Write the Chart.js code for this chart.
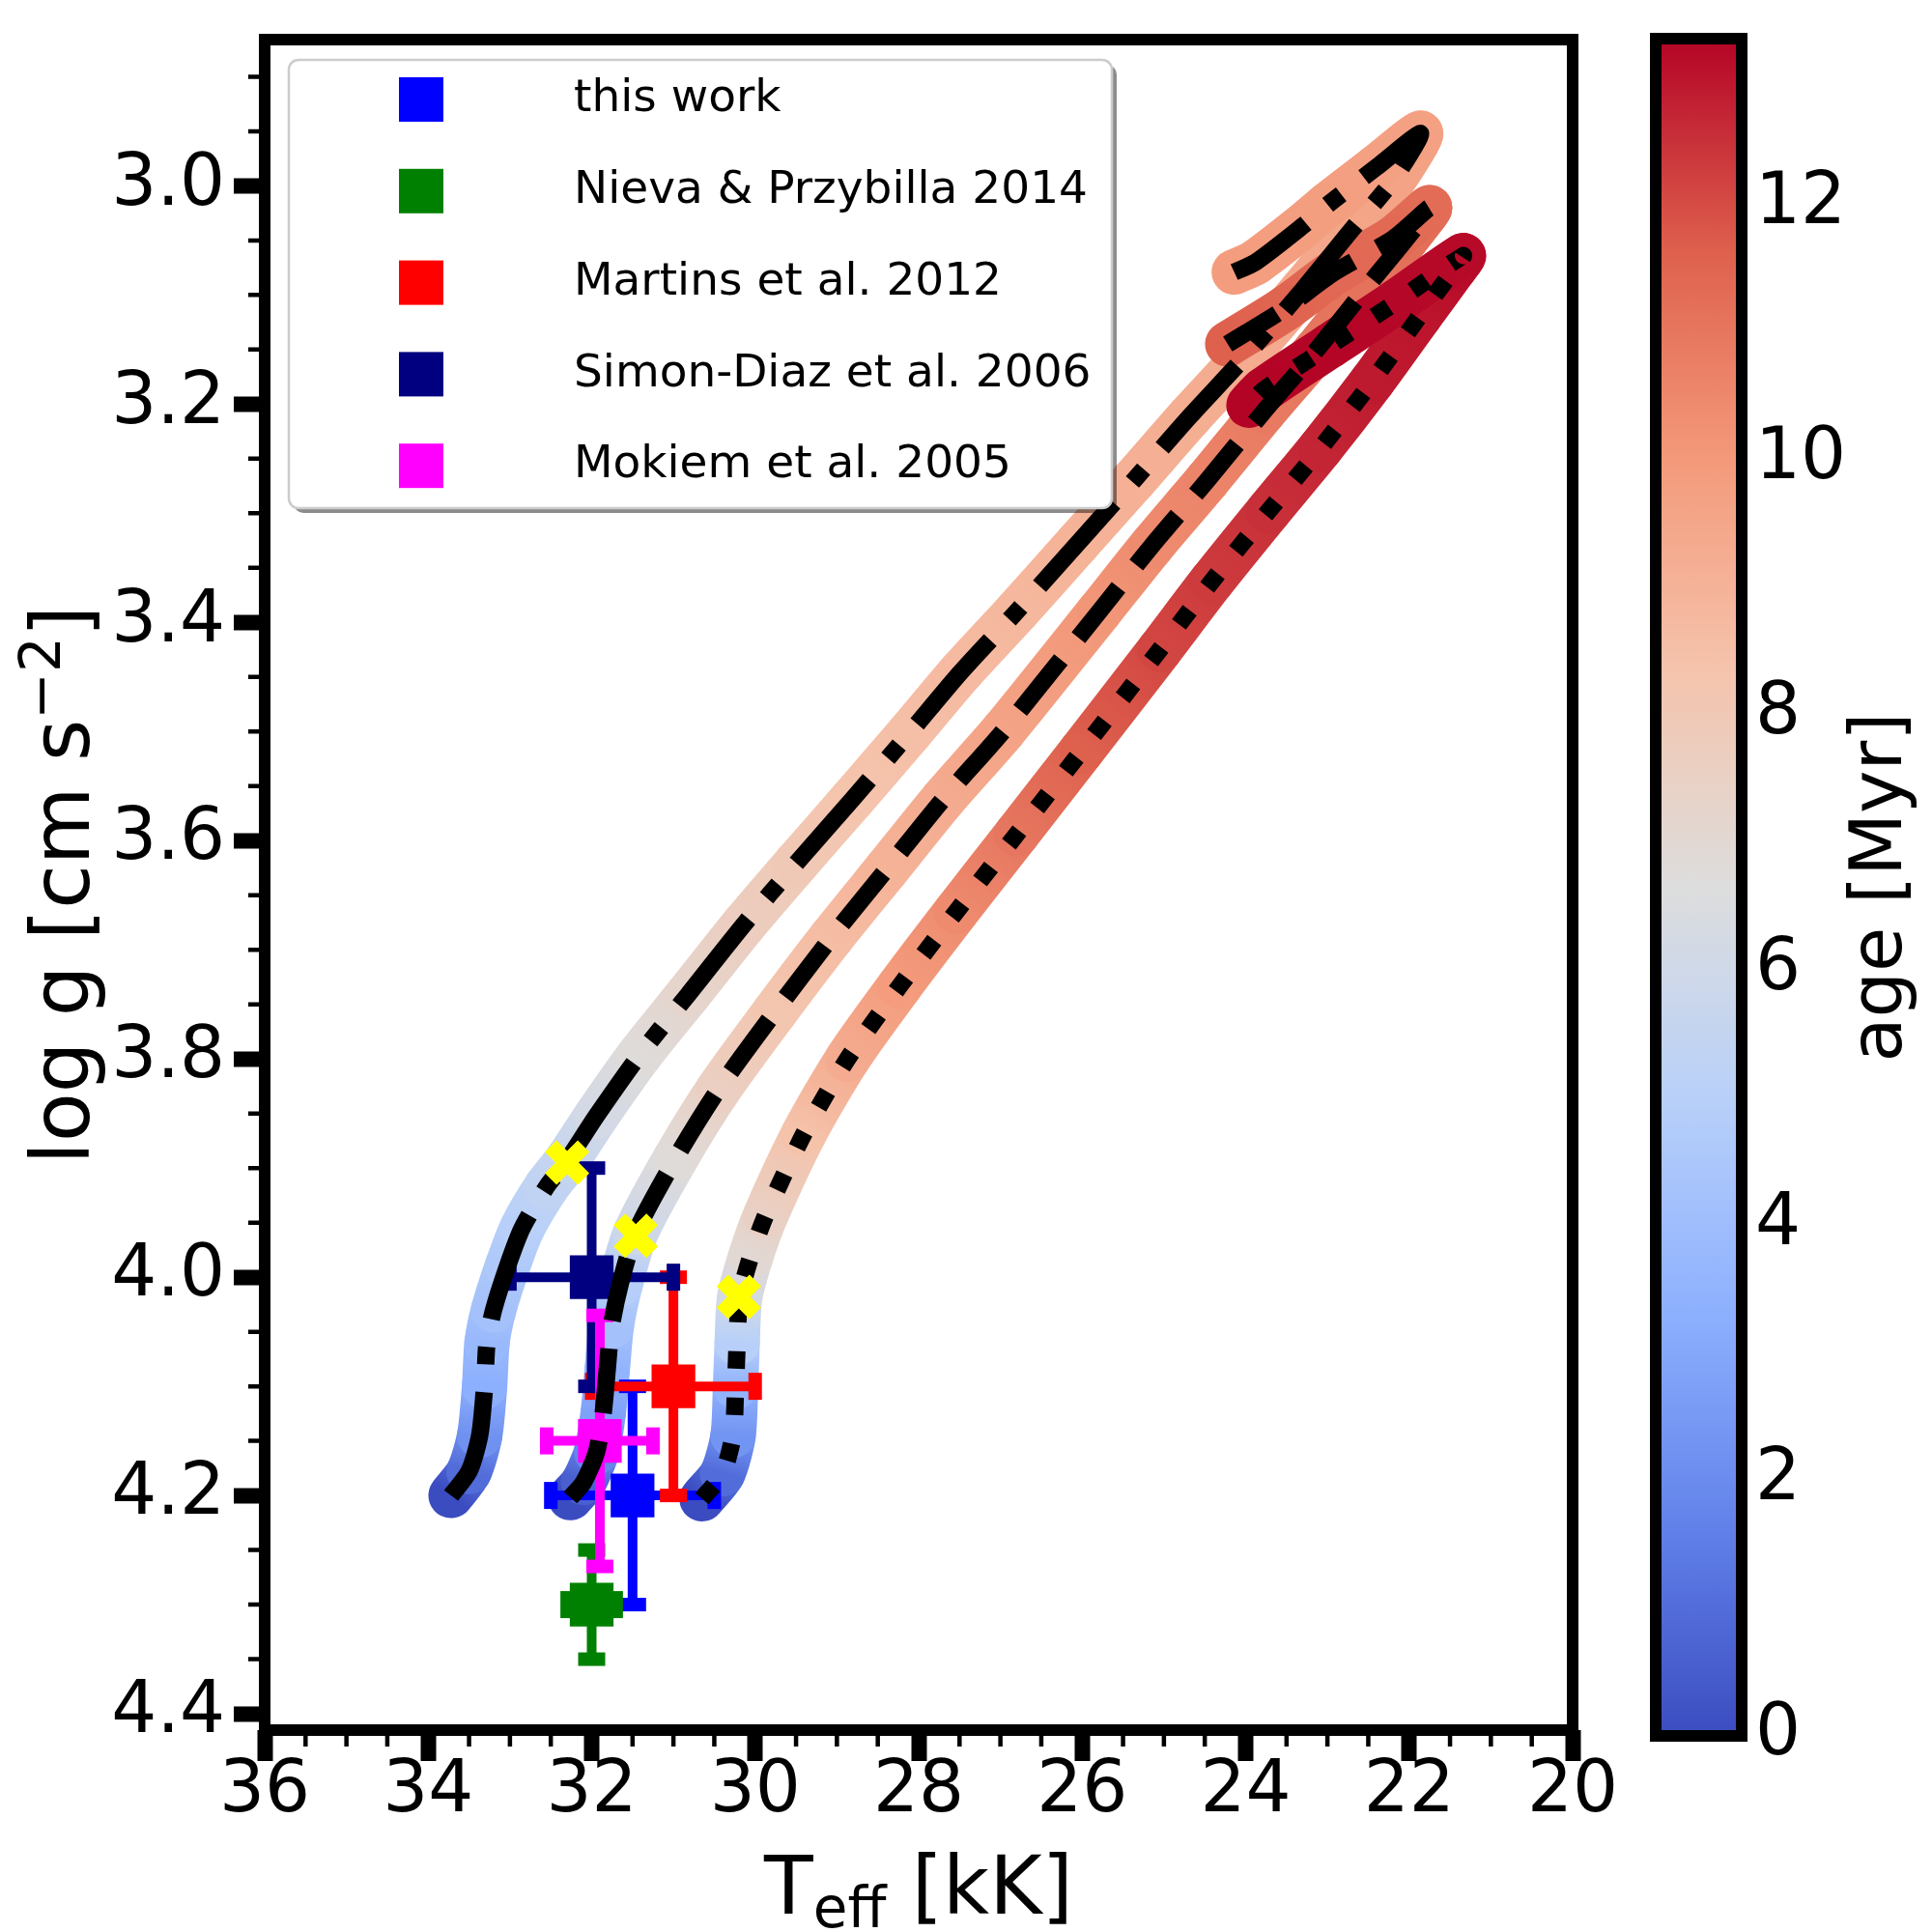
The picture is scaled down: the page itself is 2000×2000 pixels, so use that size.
<!DOCTYPE html>
<html>
<head>
<meta charset="utf-8">
<script src="https://cdn.jsdelivr.net/npm/chart.js@4.4.1/dist/chart.umd.min.js"></script>
<style>
  html, body { margin: 0; padding: 0; background: #fff; }
  #wrap { position: relative; width: 2000px; height: 2000px; }
  #main { position: absolute; left: 0; top: 0; width: 2000px; height: 2000px; }
  #cbar { position: absolute; left: 1650px; top: 0; width: 350px; height: 2000px; }
</style>
</head>
<body>
<div id="wrap">
  <canvas id="main" width="2000" height="2000"></canvas>
  <canvas id="cbar" width="350" height="2000"></canvas>
</div>
<script>
// axis ticks
const xMajor = [36, 34, 32, 30, 28, 26, 24, 22, 20];
const yMajor = [3.0, 3.2, 3.4, 3.6, 3.8, 4.0, 4.2, 4.4];
const cbTicks = [0, 2, 4, 6, 8, 10, 12];
const ageMax = 13.3;

// evolutionary tracks (Teff in kK, log g, age in Myr)
const track1Teff = [33.72, 33.50, 33.37, 33.31, 33.28, 33.20, 33.03, 32.85, 32.55, 32.30, 31.94, 31.41, 30.82, 30.14, 29.50, 28.81, 28.12, 27.49, 26.80, 26.06, 25.37, 24.68, 23.99, 23.30, 22.70, 22.20, 21.86, 22.40, 22.99, 23.29, 23.88, 24.14];
const track1Logg = [4.200, 4.178, 4.145, 4.100, 4.060, 4.030, 3.990, 3.955, 3.917, 3.893, 3.852, 3.796, 3.741, 3.677, 3.621, 3.562, 3.502, 3.446, 3.390, 3.328, 3.270, 3.211, 3.155, 3.095, 3.040, 2.995, 2.952, 2.983, 3.017, 3.036, 3.070, 3.079];
const track1Age  = [0.0, 1.0, 2.2, 3.3, 3.8, 4.2, 4.6, 5.0, 5.4, 5.6, 6.2, 6.8, 7.2, 7.7, 8.0, 8.3, 8.5, 8.7, 8.8, 9.0, 9.1, 9.2, 9.3, 9.4, 9.5, 9.6, 9.7, 9.75, 9.8, 9.82, 9.85, 9.87];

const track2Teff = [32.26, 32.10, 31.94, 31.86, 31.81, 31.76, 31.65, 31.46, 30.98, 30.45, 29.76, 29.07, 28.39, 27.70, 26.96, 25.79, 25.15, 24.47, 23.78, 23.14, 22.51, 22.03, 21.75, 22.19, 22.93, 23.51, 24.22];
const track2Logg = [4.202, 4.188, 4.160, 4.125, 4.085, 4.045, 4.006, 3.959, 3.892, 3.828, 3.757, 3.689, 3.626, 3.562, 3.499, 3.390, 3.330, 3.270, 3.207, 3.151, 3.092, 3.048, 3.020, 3.048, 3.080, 3.112, 3.145];
const track2Age  = [0.0, 0.6, 1.8, 2.8, 3.5, 4.2, 4.9, 5.9, 6.8, 7.6, 8.2, 8.6, 9.0, 9.3, 9.6, 10.1, 10.4, 10.6, 10.9, 11.0, 11.1, 11.2, 11.3, 11.35, 11.4, 11.5, 11.6];

const track3Teff = [30.65, 30.40, 30.27, 30.24, 30.22, 30.19, 30.05, 29.87, 29.40, 28.87, 28.23, 27.54, 26.80, 26.01, 25.05, 24.41, 23.72, 23.09, 22.45, 21.87, 21.45, 21.34, 22.19, 22.98, 23.78, 23.96];
const track3Logg = [4.203, 4.180, 4.145, 4.100, 4.060, 4.019, 3.980, 3.943, 3.868, 3.800, 3.733, 3.665, 3.594, 3.518, 3.425, 3.362, 3.298, 3.241, 3.179, 3.119, 3.076, 3.064, 3.108, 3.147, 3.187, 3.201];
const track3Age  = [0.0, 1.0, 2.3, 3.5, 5.0, 6.2, 7.0, 7.5, 8.4, 9.3, 9.9, 10.4, 11.0, 11.6, 12.1, 12.3, 12.5, 12.7, 12.9, 13.0, 13.15, 13.2, 13.25, 13.28, 13.3, 13.3];

// yellow crosses on the tracks
const crossTeff = [32.30, 31.46, 30.20];
const crossLogg = [3.895, 3.962, 4.018];

// literature values
const obsNames = ['this work', 'Nieva & Przybilla 2014', 'Martins et al. 2012', 'Simon-Diaz et al. 2006', 'Mokiem et al. 2005'];
const obsTeff = [31.5, 32.0, 31.0, 32.0, 31.9];
const obsTeffErr = [1.0, 0.3, 1.0, 1.0, 0.65];
const obsLogg = [4.20, 4.30, 4.10, 4.00, 4.15];
const obsLoggErr = [0.10, 0.05, 0.10, 0.10, 0.115];

const obsColors = ['#0000ff', '#008000', '#ff0000', '#000080', '#ff00ff'];
const overlayDash = [[115, 29, 18, 29], [67, 29], [18, 30]];

Chart.defaults.font.family = '"DejaVu Sans"';
Chart.defaults.color = '#000';

const cw = [[59,76,192],[98,130,234],[141,176,254],[184,208,249],[221,221,221],[245,196,173],[244,154,123],[222,96,77],[180,4,38]];
function coolwarm(t) {
  t = Math.max(0, Math.min(1, t));
  const p = t * 8;
  const i = Math.min(7, Math.floor(p));
  const f = p - i;
  const a = cw[i], b = cw[i + 1];
  return 'rgb(' + Math.round(a[0] + (b[0] - a[0]) * f) + ',' + Math.round(a[1] + (b[1] - a[1]) * f) + ',' + Math.round(a[2] + (b[2] - a[2]) * f) + ')';
}

function segColor(c) {
  const pts = c.chart.data.datasets[c.datasetIndex].data;
  const a0 = pts[c.p0DataIndex].age, a1 = pts[c.p1DataIndex].age;
  if (!isFinite(c.p0.x) || !isFinite(c.p1.x) || (c.p0.x === c.p1.x && c.p0.y === c.p1.y)) return coolwarm(a0 / ageMax);
  const g = c.chart.ctx.createLinearGradient(c.p0.x, c.p0.y, c.p1.x, c.p1.y);
  g.addColorStop(0, coolwarm(a0 / ageMax));
  g.addColorStop(1, coolwarm(a1 / ageMax));
  return g;
}

const tracks = [
  [track1Teff, track1Logg, track1Age],
  [track2Teff, track2Logg, track2Age],
  [track3Teff, track3Logg, track3Age]
];

const datasets = [];

tracks.forEach((tr, k) => {
  datasets.push({
    data: tr[0].map((t, i) => ({x: t, y: tr[1][i], age: tr[2][i]})),
    borderColor: coolwarm(0),
    borderWidth: 47,
    borderCapStyle: 'round',
    borderJoinStyle: 'round',
    pointRadius: 0,
    tension: 0.25,
    segment: {borderColor: segColor},
    order: 30 - k
  });
});

obsNames.forEach((n, k) => {
  const t = obsTeff[k], dt = obsTeffErr[k], g = obsLogg[k], dg = obsLoggErr[k];
  datasets.push({
    label: n,
    data: [{x: t - dt, y: g}, {x: t + dt, y: g}, {x: t, y: null}, {x: t, y: g - dg}, {x: t, y: g + dg}, {x: t, y: null}, {x: t, y: g}],
    borderColor: obsColors[k],
    backgroundColor: obsColors[k],
    borderWidth: 10,
    tension: 0,
    pointStyle: c => c.dataIndex === 6 ? 'rect' : 'line',
    pointRadius: c => c.dataIndex === 6 ? 32 : 14,
    pointRotation: c => c.dataIndex < 2 ? 90 : 0,
    pointBorderWidth: c => c.dataIndex === 6 ? 0 : 14,
    pointBorderColor: obsColors[k],
    pointBackgroundColor: obsColors[k],
    order: 20 - k
  });
});

tracks.forEach((tr, k) => {
  datasets.push({
    data: tr[0].map((t, i) => ({x: t, y: tr[1][i]})),
    borderColor: '#000',
    borderWidth: 18,
    borderDash: overlayDash[k],
    borderCapStyle: 'butt',
    borderJoinStyle: 'round',
    pointRadius: 0,
    tension: 0.25,
    order: 10 - k
  });
});

datasets.push({
  data: crossTeff.map((t, i) => ({x: t, y: crossLogg[i]})),
  showLine: false,
  pointStyle: 'crossRot',
  pointRadius: 24,
  pointBorderWidth: 17,
  pointBorderColor: '#ffff00',
  pointBackgroundColor: '#ffff00',
  order: 0
});

function drawParts(ctx, parts, cx, baseY) {
  let w = 0;
  parts.forEach(p => {
    ctx.font = p.size + 'px "DejaVu Sans"';
    p.w = ctx.measureText(p.t).width;
    w += p.w;
  });
  let x = cx - w / 2;
  ctx.textAlign = 'left';
  ctx.textBaseline = 'alphabetic';
  parts.forEach(p => {
    ctx.font = p.size + 'px "DejaVu Sans"';
    ctx.fillText(p.t, x, baseY + p.dy);
    x += p.w;
  });
}

function roundRect(ctx, x, y, w, h, r) {
  ctx.beginPath();
  ctx.moveTo(x + r, y);
  ctx.lineTo(x + w - r, y);
  ctx.arcTo(x + w, y, x + w, y + r, r);
  ctx.lineTo(x + w, y + h - r);
  ctx.arcTo(x + w, y + h, x + w - r, y + h, r);
  ctx.lineTo(x + r, y + h);
  ctx.arcTo(x, y + h, x, y + h - r, r);
  ctx.lineTo(x, y + r);
  ctx.arcTo(x, y, x + r, y, r);
  ctx.closePath();
}

const decor = {
  id: 'decor',
  afterDraw(chart) {
    const {ctx, chartArea: a} = chart;
    const xs = chart.scales.x, ys = chart.scales.y;
    ctx.save();

    // minor ticks
    ctx.strokeStyle = '#000';
    ctx.lineWidth = 4.5;
    ctx.beginPath();
    for (let k = 40; k <= 72; k++) {
      if (k % 4 === 0) continue;
      const px = xs.getPixelForValue(k * 0.5);
      ctx.moveTo(px, a.bottom);
      ctx.lineTo(px, a.bottom + 17);
    }
    for (let k = 58; k <= 88; k++) {
      if (k % 4 === 0) continue;
      const v = k * 0.05;
      if (v < ys.min || v > ys.max) continue;
      const py = ys.getPixelForValue(v);
      ctx.moveTo(a.left, py);
      ctx.lineTo(a.left - 17, py);
    }
    ctx.stroke();

    // legend
    const lx = 299, ly = 62, lw = 852, lh = 464;
    ctx.fillStyle = 'rgba(0,0,0,0.45)';
    roundRect(ctx, lx + 5, ly + 5, lw, lh, 10);
    ctx.fill();
    ctx.fillStyle = '#fff';
    roundRect(ctx, lx, ly, lw, lh, 10);
    ctx.fill();
    ctx.strokeStyle = '#cccccc';
    ctx.lineWidth = 2.5;
    ctx.stroke();
    ctx.font = '47px "DejaVu Sans"';
    ctx.textAlign = 'left';
    ctx.textBaseline = 'middle';
    obsNames.forEach((n, k) => {
      const cy = 103 + k * 94.8;
      ctx.fillStyle = obsColors[k];
      ctx.fillRect(436 - 23, cy - 23, 46, 46);
      ctx.fillStyle = '#000';
      ctx.fillText(n, 594, cy);
    });

    // frame
    ctx.strokeStyle = '#000';
    ctx.lineWidth = 12;
    ctx.strokeRect(a.left, a.top, a.right - a.left, a.bottom - a.top);

    // axis titles
    ctx.fillStyle = '#000';
    drawParts(ctx, [
      {t: 'T', size: 83, dy: 0},
      {t: 'eff', size: 58, dy: 14},
      {t: ' [kK]', size: 83, dy: 0}
    ], (a.left + a.right) / 2, 1981);

    ctx.save();
    ctx.translate(92, (a.top + a.bottom) / 2);
    ctx.rotate(-Math.PI / 2);
    drawParts(ctx, [
      {t: 'log g [cm s', size: 83, dy: 0},
      {t: '\u22122', size: 58, dy: -30},
      {t: ']', size: 83, dy: 0}
    ], 0, 0);
    ctx.restore();

    ctx.restore();
  }
};

new Chart(document.getElementById('main'), {
  type: 'line',
  data: {datasets: datasets},
  options: {
    responsive: false,
    devicePixelRatio: 1,
    animation: false,
    events: [],
    layout: {padding: {left: 0, right: 372, top: 38, bottom: 0}},
    plugins: {legend: {display: false}, tooltip: {enabled: false}},
    scales: {
      x: {
        type: 'linear',
        min: 20,
        max: 36,
        reverse: true,
        afterBuildTicks: s => { s.ticks = xMajor.map(v => ({value: v})); },
        afterFit: s => { s.height = 209; s.paddingLeft = 0; s.paddingRight = 0; },
        grid: {display: true, drawOnChartArea: false, drawTicks: true, tickLength: 32, tickWidth: 16, tickColor: '#000'},
        border: {display: false},
        ticks: {font: {size: 74, lineHeight: 1}, color: '#000', padding: -4, maxRotation: 0, autoSkip: false}
      },
      y: {
        type: 'linear',
        min: 2.866,
        max: 4.415,
        reverse: true,
        afterBuildTicks: s => { s.ticks = yMajor.map(v => ({value: v})); },
        afterFit: s => { s.width = 274; s.paddingTop = 0; s.paddingBottom = 0; },
        grid: {display: true, drawOnChartArea: false, drawTicks: true, tickLength: 32, tickWidth: 16, tickColor: '#000'},
        border: {display: false},
        ticks: {font: {size: 74, lineHeight: 1}, color: '#000', padding: 9, autoSkip: false, callback: v => v.toFixed(1)}
      }
    }
  },
  plugins: [decor]
});

// colour bar
const cbDecor = {
  id: 'cbDecor',
  beforeDatasetsDraw(chart) {
    const {ctx, chartArea: a} = chart;
    const ys = chart.scales.y;
    const g = ctx.createLinearGradient(0, ys.getPixelForValue(0), 0, ys.getPixelForValue(ageMax));
    for (let i = 0; i <= 32; i++) g.addColorStop(i / 32, coolwarm(i / 32));
    ctx.save();
    ctx.fillStyle = g;
    ctx.fillRect(a.left, a.top, a.right - a.left, a.bottom - a.top);
    ctx.restore();
  },
  afterDraw(chart) {
    const {ctx, chartArea: a} = chart;
    ctx.save();
    ctx.strokeStyle = '#000';
    ctx.lineWidth = 12;
    ctx.strokeRect(a.left, a.top, a.right - a.left, a.bottom - a.top);
    ctx.fillStyle = '#000';
    ctx.translate(318, (a.top + a.bottom) / 2);
    ctx.rotate(-Math.PI / 2);
    drawParts(ctx, [{t: 'age [Myr]', size: 75, dy: 0}], 0, 0);
    ctx.restore();
  }
};

new Chart(document.getElementById('cbar'), {
  type: 'scatter',
  data: {datasets: [{data: []}]},
  options: {
    responsive: false,
    devicePixelRatio: 1,
    animation: false,
    events: [],
    layout: {padding: {left: 64, right: 0, top: 40, bottom: 203}},
    plugins: {legend: {display: false}, tooltip: {enabled: false}},
    scales: {
      x: {display: false, min: 0, max: 1},
      y: {
        position: 'right',
        min: 0,
        max: ageMax,
        afterBuildTicks: s => { s.ticks = cbTicks.map(v => ({value: v})); },
        afterFit: s => { s.width = 197; s.paddingTop = 0; s.paddingBottom = 0; },
        grid: {display: true, drawOnChartArea: false, drawTicks: false},
        border: {display: false},
        ticks: {font: {size: 74, lineHeight: 1}, color: '#000', padding: 14, autoSkip: false}
      }
    }
  },
  plugins: [cbDecor]
});
</script>
</body>
</html>
